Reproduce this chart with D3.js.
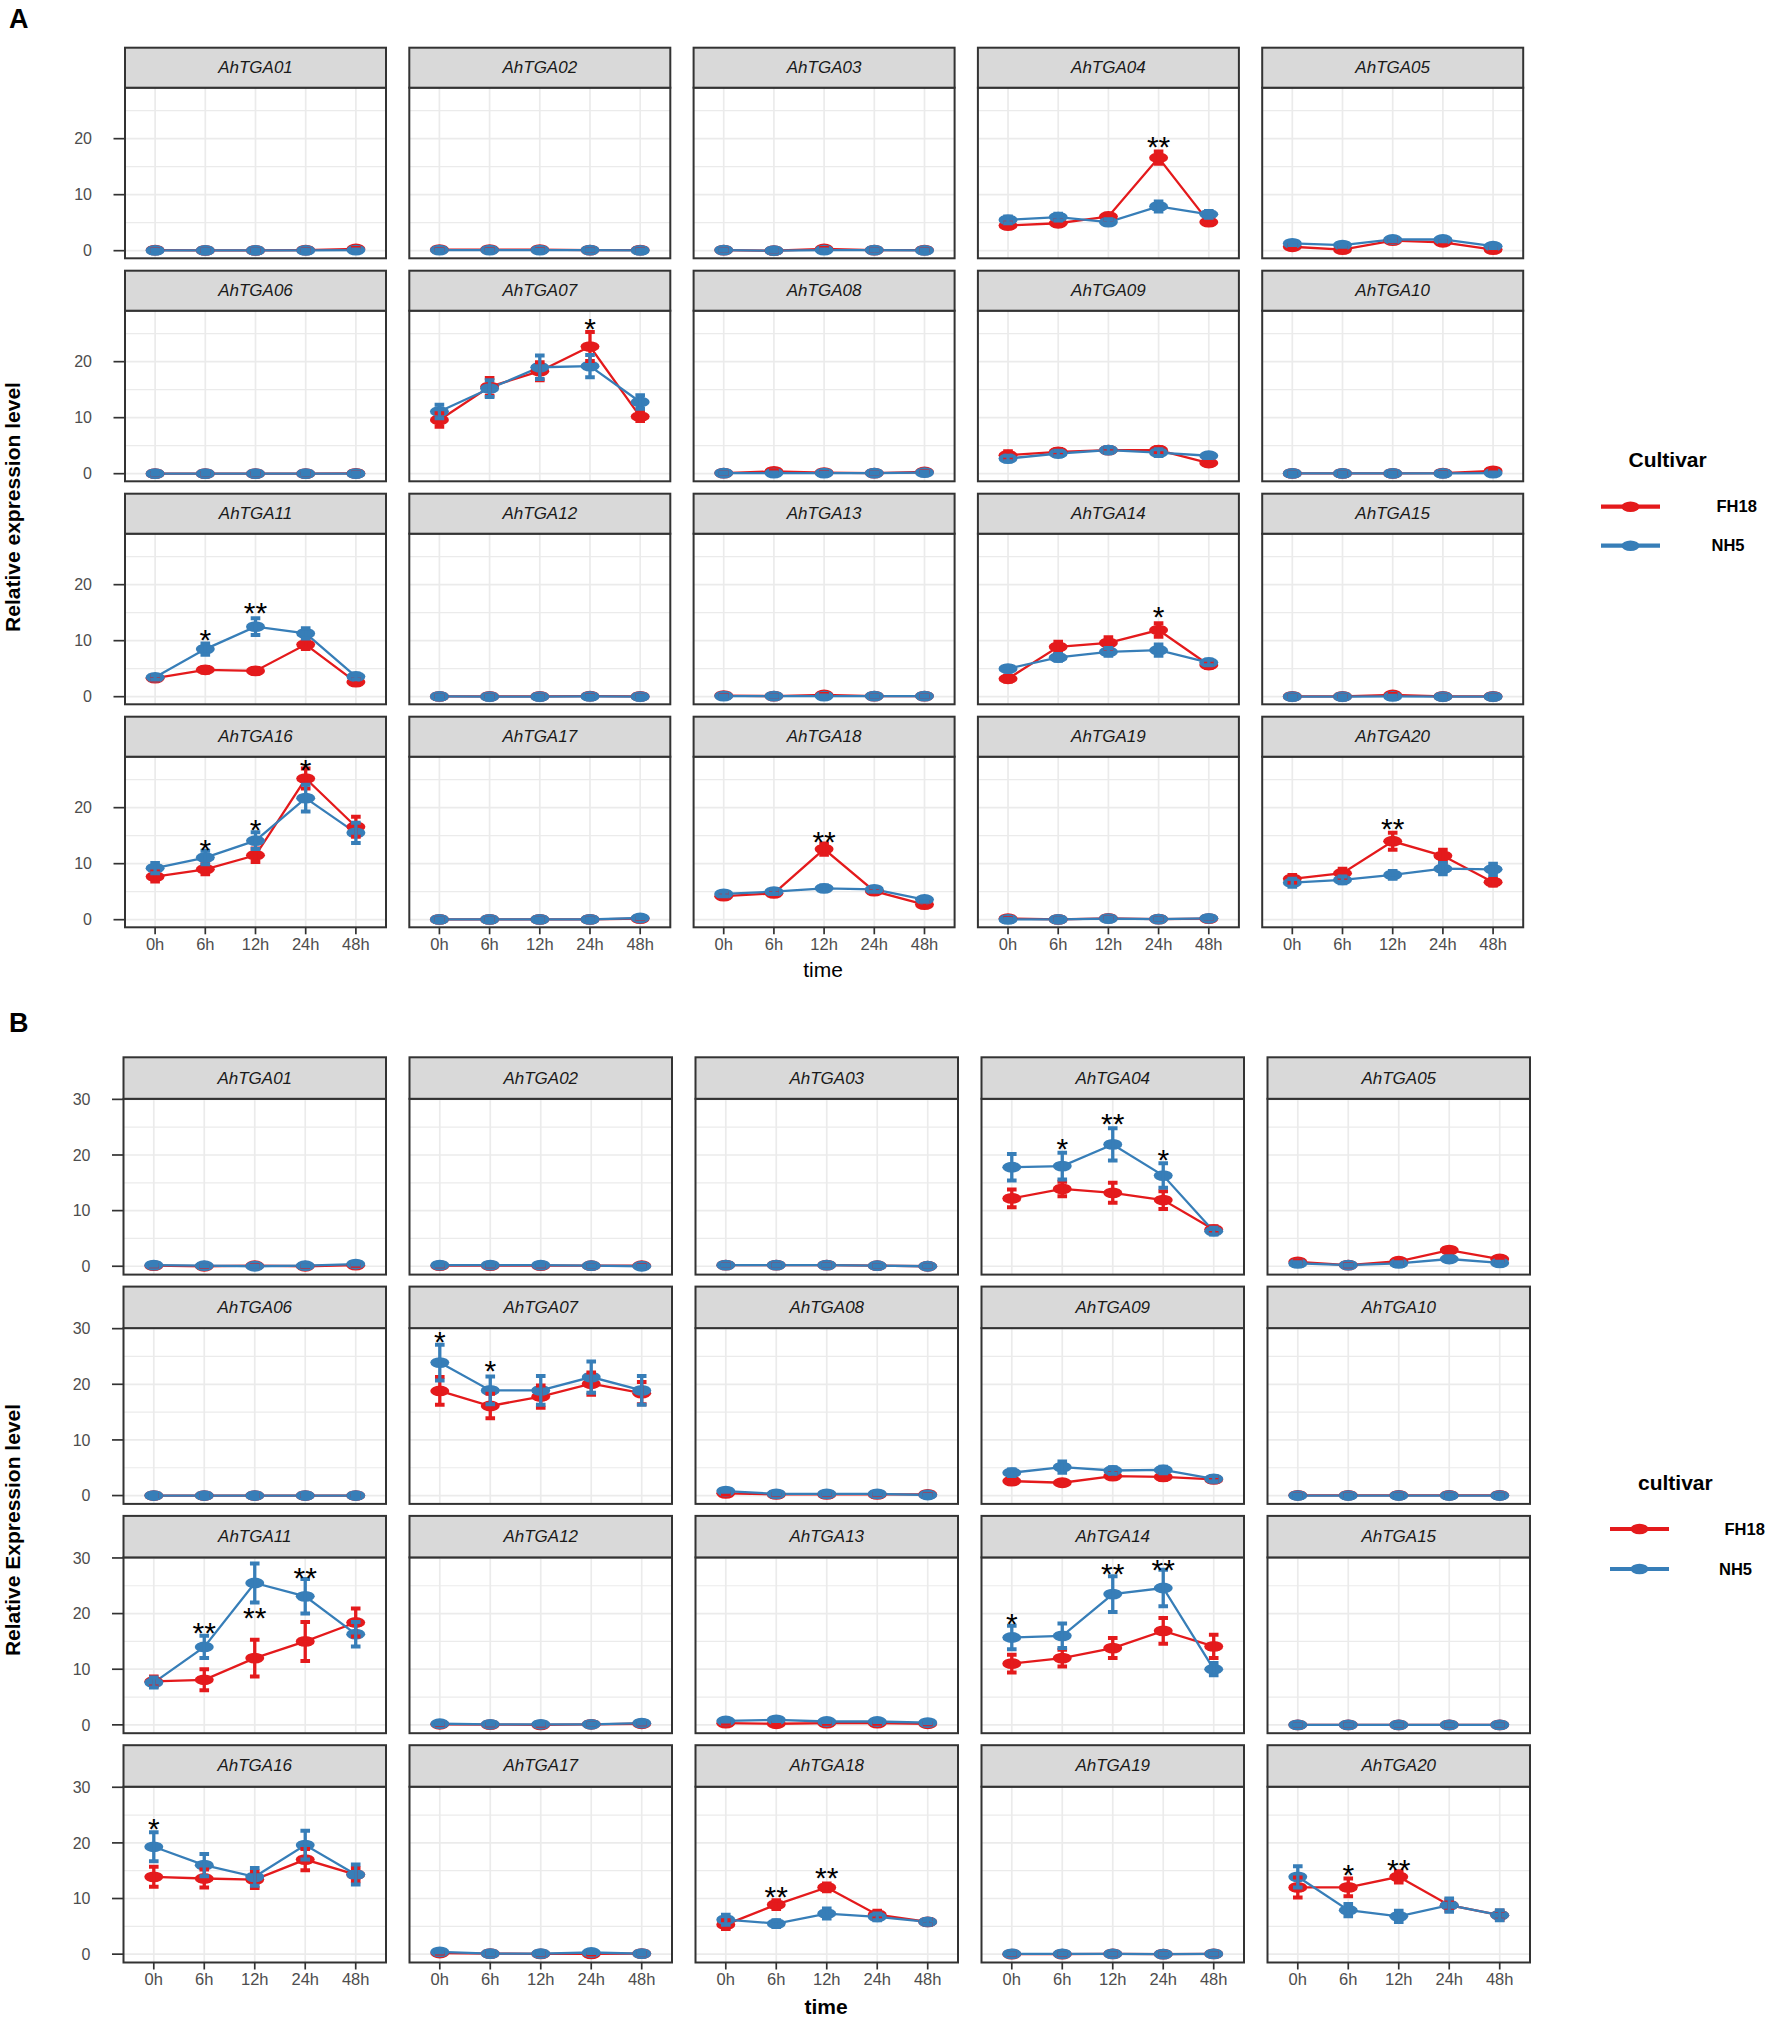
<!DOCTYPE html>
<html>
<head>
<meta charset="utf-8">
<script src="https://cdn.jsdelivr.net/npm/d3@7"></script>
<style>
  body { margin: 0; background: #fff; }
  svg text { font-family: "Liberation Sans", Arial, sans-serif; }
</style>
</head>
<body>
<svg id="fig" width="1772" height="2020"></svg>
<script>
// ---- data ----
const genes = d3.range(1, 21).map(i => "AhTGA" + String(i).padStart(2, "0"));
const times = ["0h", "6h", "12h", "24h", "48h"];
const cultivars = ["FH18", "NH5"];
const colors = ["#E41A1C", "#377EB8"];

// panel A
const aFH18 = [
  [0.1, 0.05, 0.05, 0.1, 0.3], [0.2, 0.2, 0.2, 0.1, 0.1], [0.1, 0.0, 0.3, 0.1, 0.1],
  [4.5, 4.9, 6.1, 16.6, 5.1], [0.7, 0.2, 1.8, 1.5, 0.2],
  [0, 0, 0, 0, 0.05], [9.6, 15.5, 18.3, 22.7, 10.2], [0.1, 0.4, 0.2, 0.1, 0.3],
  [3.3, 3.9, 4.2, 4.2, 1.9], [0.05, 0.05, 0.05, 0.1, 0.5],
  [3.3, 4.8, 4.6, 9.3, 2.6], [0.05, 0.05, 0.05, 0.1, 0.05], [0.2, 0.1, 0.3, 0.1, 0.1],
  [3.2, 8.9, 9.6, 11.9, 5.65], [0.05, 0.05, 0.3, 0.05, 0.05],
  [7.7, 9.0, 11.5, 25.2, 16.6], [0.05, 0.05, 0.05, 0.05, 0.2], [4.2, 4.7, 12.6, 5.1, 2.7],
  [0.2, 0.05, 0.25, 0.1, 0.2], [7.3, 8.3, 14.0, 11.4, 6.7]
];
const aFH18Err = [
  [0.1, 0.1, 0.1, 0.1, 0.2], [0.1, 0.1, 0.1, 0.1, 0.1], [0.1, 0.1, 0.2, 0.1, 0.1],
  [0.5, 0.5, 0.5, 1.1, 0.5], [0.3, 0.3, 0.3, 0.3, 0.3],
  [0.1, 0.1, 0.1, 0.1, 0.1], [1.2, 1.6, 1.6, 2.6, 0.8], [0.1, 0.2, 0.1, 0.1, 0.1],
  [0.7, 0.5, 0.4, 0.5, 0.4], [0.1, 0.1, 0.1, 0.1, 0.2],
  [0.4, 0.5, 0.5, 0.8, 0.5], [0.1, 0.1, 0.1, 0.1, 0.1], [0.1, 0.1, 0.2, 0.1, 0.1],
  [0.5, 0.9, 1.0, 1.2, 0.5], [0.1, 0.1, 0.2, 0.1, 0.1],
  [0.9, 0.9, 1.2, 1.8, 1.8], [0.1, 0.1, 0.1, 0.1, 0.1], [0.5, 0.4, 1.0, 0.5, 0.4],
  [0.1, 0.1, 0.1, 0.1, 0.1], [0.7, 0.8, 1.5, 1.1, 0.6]
];
const aNH5 = [
  [0.05, 0.05, 0.05, 0.05, 0.1], [0.1, 0.1, 0.1, 0.1, 0.05], [0.1, 0.0, 0.1, 0.1, 0.05],
  [5.5, 6.0, 5.1, 7.9, 6.5], [1.3, 1.0, 2.0, 2.0, 0.8],
  [0, 0, 0, 0, 0], [11.1, 15.2, 19.0, 19.2, 12.8], [0.1, 0.1, 0.1, 0.1, 0.2],
  [2.7, 3.6, 4.2, 3.75, 3.2], [0.05, 0.05, 0.05, 0.05, 0.1],
  [3.45, 8.5, 12.5, 11.3, 3.6], [0.05, 0, 0, 0.05, 0], [0.1, 0.1, 0.1, 0.1, 0.1],
  [5.0, 7.0, 8.0, 8.3, 6.1], [0, 0, 0.05, 0, 0],
  [9.2, 11.1, 14.1, 21.7, 15.5], [0.05, 0.05, 0.05, 0.05, 0.3], [4.6, 5.0, 5.6, 5.4, 3.6],
  [0.05, 0.05, 0.2, 0.1, 0.25], [6.6, 7.1, 8.0, 9.1, 9.0]
];
const aNH5Err = [
  [0.1, 0.1, 0.1, 0.1, 0.1], [0.1, 0.1, 0.1, 0.1, 0.1], [0.1, 0.1, 0.1, 0.1, 0.1],
  [0.6, 0.6, 0.5, 0.9, 0.6], [0.3, 0.3, 0.3, 0.3, 0.3],
  [0.1, 0.1, 0.1, 0.1, 0.1], [1.2, 1.5, 2.1, 2.0, 1.2], [0.1, 0.1, 0.1, 0.1, 0.1],
  [0.5, 0.5, 0.5, 0.6, 0.4], [0.1, 0.1, 0.1, 0.1, 0.1],
  [0.4, 1.0, 1.5, 0.9, 0.5], [0.1, 0.1, 0.1, 0.1, 0.1], [0.1, 0.1, 0.1, 0.1, 0.1],
  [0.5, 0.6, 0.7, 1.0, 0.5], [0.1, 0.1, 0.1, 0.1, 0.1],
  [0.9, 1.2, 1.5, 2.4, 1.8], [0.1, 0.1, 0.1, 0.1, 0.1], [0.4, 0.4, 0.5, 0.4, 0.4],
  [0.1, 0.1, 0.1, 0.1, 0.1], [0.7, 0.6, 0.7, 1.0, 1.0]
];
// [gene index, time index, label, height]
const aStars = [
  [3, 3, "**", 19.8], [6, 3, "*", 27.1], [10, 1, "*", 11.3], [10, 2, "**", 16.2],
  [13, 3, "*", 15.4], [15, 1, "*", 13.6], [15, 2, "*", 17.2], [15, 3, "*", 28.0],
  [17, 2, "**", 15.2], [19, 2, "**", 17.5]
];

// panel B
const bFH18 = [
  [0.1, 0.0, 0.1, 0.0, 0.2], [0.1, 0.1, 0.1, 0.1, 0.1], [0.2, 0.2, 0.2, 0.1, 0.0],
  [12.2, 13.9, 13.2, 11.9, 6.6], [0.8, 0.2, 0.9, 2.9, 1.3],
  [0, 0, 0, 0, 0], [18.8, 16.1, 17.8, 20.1, 18.4], [0.4, 0.2, 0.2, 0.2, 0.2],
  [2.6, 2.3, 3.5, 3.35, 2.9], [0.05, 0.05, 0.05, 0.05, 0.05],
  [7.8, 8.1, 12.0, 15.0, 18.4], [0.1, 0.05, 0.0, 0.1, 0.2], [0.3, 0.2, 0.3, 0.3, 0.2],
  [11.0, 12.0, 13.8, 16.9, 14.1], [0, 0, 0, 0, 0],
  [13.9, 13.6, 13.4, 17.0, 14.3], [0.2, 0.1, 0.05, 0.05, 0.1], [5.3, 8.9, 12.0, 7.1, 5.8],
  [0.0, 0.0, 0.05, 0.0, 0.05], [12.0, 12.0, 13.9, 8.8, 7.0]
];
const bFH18Err = [
  [0.1, 0.1, 0.1, 0.1, 0.1], [0.1, 0.1, 0.1, 0.1, 0.1], [0.1, 0.1, 0.1, 0.1, 0.1],
  [1.6, 1.3, 1.8, 1.6, 0.6], [0.3, 0.2, 0.3, 0.4, 0.3],
  [0.1, 0.1, 0.1, 0.1, 0.1], [2.5, 2.2, 2.0, 2.0, 2.0], [0.1, 0.1, 0.1, 0.1, 0.1],
  [0.5, 0.4, 0.5, 0.5, 0.4], [0.1, 0.1, 0.1, 0.1, 0.1],
  [0.9, 1.9, 3.3, 3.5, 2.5], [0.1, 0.1, 0.1, 0.1, 0.1], [0.1, 0.1, 0.1, 0.1, 0.1],
  [1.6, 1.5, 1.8, 2.3, 2.1], [0.1, 0.1, 0.1, 0.1, 0.1],
  [1.8, 1.6, 1.5, 1.9, 1.2], [0.1, 0.1, 0.1, 0.1, 0.1], [0.8, 0.8, 0.7, 0.7, 0.5],
  [0.1, 0.1, 0.1, 0.1, 0.1], [1.8, 1.6, 1.0, 1.0, 0.8]
];
const bNH5 = [
  [0.2, 0.1, 0.0, 0.1, 0.4], [0.2, 0.2, 0.2, 0.1, 0.0], [0.2, 0.2, 0.2, 0.1, 0.0],
  [17.8, 18.0, 21.9, 16.3, 6.3], [0.5, 0.2, 0.5, 1.3, 0.6],
  [0, 0, 0, 0, 0], [23.9, 18.9, 18.9, 21.3, 18.9], [0.8, 0.3, 0.3, 0.3, 0.1],
  [4.1, 5.1, 4.5, 4.6, 3.0], [0, 0, 0, 0, 0],
  [7.6, 14.0, 25.5, 23.1, 16.3], [0.2, 0.1, 0.1, 0.1, 0.3], [0.7, 0.9, 0.6, 0.6, 0.4],
  [15.7, 16.0, 23.5, 24.6, 10.0], [0, 0, 0, 0, 0],
  [19.3, 16.0, 13.9, 19.6, 14.3], [0.4, 0.1, 0.1, 0.3, 0.1], [6.2, 5.5, 7.3, 6.7, 5.8],
  [0.05, 0.05, 0.05, 0.0, 0.05], [13.9, 7.9, 6.8, 8.8, 7.0]
];
const bNH5Err = [
  [0.1, 0.1, 0.1, 0.1, 0.1], [0.1, 0.1, 0.1, 0.1, 0.1], [0.1, 0.1, 0.1, 0.1, 0.1],
  [2.4, 2.4, 2.9, 2.2, 0.6], [0.2, 0.1, 0.2, 0.3, 0.2],
  [0.1, 0.1, 0.1, 0.1, 0.1], [3.2, 2.5, 2.6, 2.8, 2.6], [0.1, 0.1, 0.1, 0.1, 0.1],
  [0.6, 1.0, 0.6, 0.6, 0.5], [0.1, 0.1, 0.1, 0.1, 0.1],
  [0.9, 2.0, 3.5, 3.1, 2.2], [0.1, 0.1, 0.1, 0.1, 0.1], [0.1, 0.2, 0.1, 0.1, 0.1],
  [2.1, 2.2, 3.2, 3.3, 1.1], [0.1, 0.1, 0.1, 0.1, 0.1],
  [2.6, 2.0, 1.6, 2.6, 1.8], [0.1, 0.1, 0.1, 0.1, 0.1], [0.9, 0.6, 0.9, 0.6, 0.5],
  [0.1, 0.1, 0.1, 0.1, 0.1], [1.9, 1.1, 1.0, 1.2, 0.9]
];
const bStars = [
  [3, 1, "*", 22.3], [3, 2, "**", 26.9], [3, 3, "*", 20.4],
  [6, 0, "*", 28.8], [6, 1, "*", 23.7],
  [10, 1, "**", 17.8], [10, 2, "**", 20.5], [10, 3, "**", 27.6],
  [13, 0, "*", 19.4], [13, 2, "**", 28.3], [13, 3, "**", 29.1],
  [15, 0, "*", 23.8], [17, 1, "**", 11.5], [17, 2, "**", 14.9],
  [19, 1, "*", 15.4], [19, 2, "**", 16.4]
];

// ---- drawing ----
const svg = d3.select("#fig");
const GRID = "#ebebeb", BORDER = "#333333", TICKTXT = "#4d4d4d";

function drawSet(cfg) {
  const root = svg.append("g");
  const x = d3.scalePoint().domain(times).range([0, cfg.w]).padding(0.6);
  const y = d3.scaleLinear().domain(cfg.yDomain).range([cfg.plotH, 0]);
  const majors = cfg.yTicks, minors = cfg.yMinor;

  root.append("clipPath").attr("id", "clip" + cfg.id)
    .append("rect").attr("width", cfg.w).attr("height", cfg.plotH);

  root.append("text")
      .attr("x", 9).attr("y", cfg.letterY)
      .attr("font-size", 27).attr("font-weight", "bold")
      .text(cfg.id);

  genes.forEach((gene, k) => {
    const col = k % 5, row = Math.floor(k / 5);
    const px = cfg.left + col * cfg.colStep;
    const py = cfg.top + row * cfg.rowStep + cfg.stripH;
    const p = root.append("g").attr("transform", `translate(${px},${py})`);

    // grid
    p.selectAll(".minor").data(minors).join("line")
        .attr("x1", 0).attr("x2", cfg.w)
        .attr("y1", d => y(d)).attr("y2", d => y(d))
        .attr("stroke", GRID).attr("stroke-width", 1.2);
    p.selectAll(".hmaj").data(majors).join("line")
        .attr("x1", 0).attr("x2", cfg.w)
        .attr("y1", d => y(d)).attr("y2", d => y(d))
        .attr("stroke", GRID).attr("stroke-width", 1.7);
    p.selectAll(".vmaj").data(times).join("line")
        .attr("x1", d => x(d)).attr("x2", d => x(d))
        .attr("y1", 0).attr("y2", cfg.plotH)
        .attr("stroke", GRID).attr("stroke-width", 1.7);

    const series = cfg.values.map((vals, s) => times.map((t, i) => ({
      t, v: vals[k][i], e: cfg.errors[s][k][i], s
    })));

    const plot = p.append("g").attr("clip-path", `url(#clip${cfg.id})`);
    const line = d3.line().x(d => x(d.t)).y(d => y(d.v));

    series.forEach(ser => {
      plot.append("path").datum(ser)
          .attr("d", line).attr("fill", "none")
          .attr("stroke", colors[ser[0].s]).attr("stroke-width", 2.3);
    });
    series.forEach(ser => {
      plot.selectAll(null).data(ser).join("ellipse")
          .attr("cx", d => x(d.t)).attr("cy", d => y(d.v))
          .attr("rx", 9.5).attr("ry", 5.4)
          .attr("fill", colors[ser[0].s]);
    });
    series.forEach(ser => {
      const eb = plot.selectAll(null).data(ser).join("g")
          .attr("stroke", colors[ser[0].s]);
      eb.append("line")
          .attr("x1", d => x(d.t)).attr("x2", d => x(d.t))
          .attr("y1", d => y(d.v - d.e)).attr("y2", d => y(d.v + d.e))
          .attr("stroke-width", 3.3);
      [-1, 1].forEach(sign => {
        eb.append("line")
            .attr("x1", d => x(d.t) - 4.8).attr("x2", d => x(d.t) + 4.8)
            .attr("y1", d => y(d.v + sign * d.e)).attr("y2", d => y(d.v + sign * d.e))
            .attr("stroke-width", 4);
      });
    });

    plot.selectAll(null).data(cfg.stars.filter(s => s[0] === k)).join("text")
        .attr("x", d => x(times[d[1]])).attr("y", d => y(d[3]) + 17)
        .attr("text-anchor", "middle").attr("font-size", 30).attr("fill", "#000")
        .text(d => d[2]);

    // border + strip
    p.append("rect").attr("width", cfg.w).attr("height", cfg.plotH)
        .attr("fill", "none").attr("stroke", BORDER).attr("stroke-width", 2);
    p.append("rect").attr("y", -cfg.stripH).attr("width", cfg.w).attr("height", cfg.stripH)
        .attr("fill", "#d9d9d9").attr("stroke", BORDER).attr("stroke-width", 2);
    p.append("text")
        .attr("x", cfg.w / 2).attr("y", -cfg.stripH / 2 + 5.5)
        .attr("text-anchor", "middle").attr("font-size", 17)
        .attr("font-style", "italic").attr("fill", "#1a1a1a")
        .text(gene);

    if (col === 0) {
      const ya = p.append("g");
      ya.selectAll("line").data(majors).join("line")
          .attr("x1", -11.5).attr("x2", 0)
          .attr("y1", d => y(d)).attr("y2", d => y(d))
          .attr("stroke", BORDER).attr("stroke-width", 1.7);
      ya.selectAll("text").data(majors).join("text")
          .attr("x", -33).attr("y", d => y(d) + 5.7)
          .attr("text-anchor", "end").attr("font-size", 16).attr("fill", TICKTXT)
          .text(d => d);
    }
    if (row === 3) {
      const xa = p.append("g");
      xa.selectAll("line").data(times).join("line")
          .attr("x1", d => x(d)).attr("x2", d => x(d))
          .attr("y1", cfg.plotH).attr("y2", cfg.plotH + 7)
          .attr("stroke", BORDER).attr("stroke-width", 1.7);
      xa.selectAll("text").data(times).join("text")
          .attr("x", d => x(d)).attr("y", cfg.plotH + 22.5)
          .attr("text-anchor", "middle").attr("font-size", 16.5).attr("fill", TICKTXT)
          .text(d => d);
    }
  });

  // axis titles
  root.append("text")
      .attr("transform", `translate(${cfg.yTitleX},${cfg.yTitleY}) rotate(-90)`)
      .attr("text-anchor", "middle").attr("font-size", 21).attr("font-weight", "bold")
      .text(cfg.yTitle);
  root.append("text")
      .attr("x", cfg.xTitleX).attr("y", cfg.xTitleY)
      .attr("text-anchor", "middle").attr("font-size", 21)
      .attr("font-weight", cfg.xTitleBold ? "bold" : "normal")
      .text("time");

  // legend
  const lg = root.append("g");
  lg.append("text").attr("x", cfg.legX).attr("y", cfg.legTitleY)
      .attr("font-size", 21).attr("font-weight", "bold").text(cfg.legTitle);
  cultivars.forEach((c, i) => {
    const ly = cfg.legY0 + i * cfg.legStep;
    lg.append("line").attr("x1", cfg.legLineX).attr("x2", cfg.legLineX + 59)
        .attr("y1", ly).attr("y2", ly)
        .attr("stroke", colors[i]).attr("stroke-width", 4.2);
    lg.append("ellipse").attr("cx", cfg.legLineX + 29.5).attr("cy", ly)
        .attr("rx", 9).attr("ry", 5.2).attr("fill", colors[i]);
    lg.append("text").attr("x", cfg.legTextX[i]).attr("y", ly + 5.5)
        .attr("font-size", 16.5).attr("font-weight", "bold").text(c);
  });
}

drawSet({
  id: "A", letterY: 28,
  values: [aFH18, aNH5], errors: [aFH18Err, aNH5Err], stars: aStars,
  left: 125, colStep: 284.3, w: 261,
  top: 47.7, rowStep: 223, stripH: 40, plotH: 170.6,
  yDomain: [-1.36, 29.1], yTicks: [0, 10, 20], yMinor: [5, 15, 25],
  yTitle: "Relative expression level", yTitleX: 20, yTitleY: 507,
  xTitleX: 823, xTitleY: 977, xTitleBold: false,
  legTitle: "Cultivar", legX: 1628.5, legTitleY: 467.3,
  legY0: 506.7, legStep: 39, legLineX: 1601, legTextX: [1716.5, 1711.5]
});

drawSet({
  id: "B", letterY: 1032,
  values: [bFH18, bNH5], errors: [bFH18Err, bNH5Err], stars: bStars,
  left: 123.5, colStep: 286, w: 262.5,
  top: 1057.3, rowStep: 229.3, stripH: 41.5, plotH: 175.8,
  yDomain: [-1.5, 30.1], yTicks: [0, 10, 20, 30], yMinor: [5, 15, 25],
  yTitle: "Relative Expression level", yTitleX: 20, yTitleY: 1530,
  xTitleX: 826, xTitleY: 2014, xTitleBold: true,
  legTitle: "cultivar", legX: 1638, legTitleY: 1489.5,
  legY0: 1529, legStep: 40, legLineX: 1610, legTextX: [1724.5, 1719]
});
</script>
</body>
</html>
